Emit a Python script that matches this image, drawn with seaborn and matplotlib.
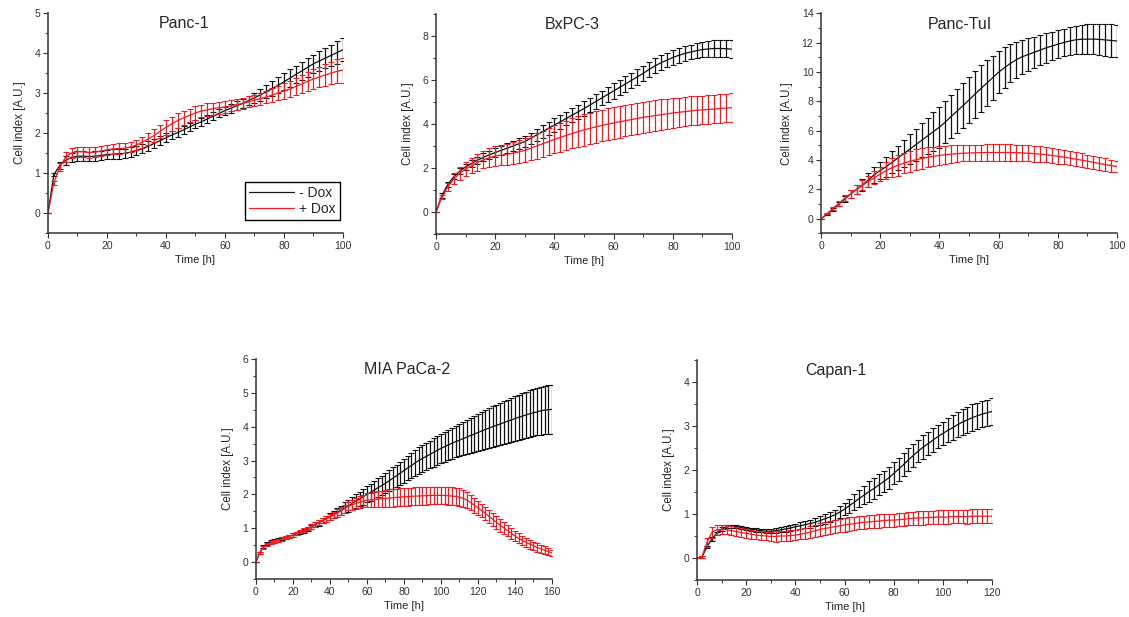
import matplotlib
matplotlib.use("Agg")
import matplotlib.pyplot as plt
from matplotlib.ticker import MultipleLocator
import seaborn as sns
import pandas as pd

sns.set_style("ticks")
plt.rcParams["font.family"] = ["Liberation Sans", "DejaVu Sans"]

# time grids (h)
time_100 = list(range(0, 101, 2))
time_120 = list(range(0, 121, 2))
time_160 = list(range(0, 161, 2))

# ---- Panc-1 ----
panc1_minus = [0, 0.96, 1.19, 1.32, 1.39, 1.42, 1.42, 1.41, 1.42, 1.44, 1.46, 1.47, 1.48, 1.49, 1.52, 1.56,
               1.61, 1.67, 1.74, 1.81, 1.88, 1.95, 2.01, 2.08, 2.15, 2.22, 2.28, 2.35, 2.42, 2.49, 2.56,
               2.62, 2.68, 2.74, 2.81, 2.88, 2.95, 3.03, 3.11, 3.19, 3.28, 3.37, 3.46, 3.55, 3.64, 3.73,
               3.80, 3.87, 3.94, 4.01, 4.08]
panc1_minus_err = [0, 0.04, 0.08, 0.11, 0.12, 0.12, 0.12, 0.12, 0.12, 0.12, 0.12, 0.12, 0.12, 0.12, 0.12, 0.12,
                   0.12, 0.12, 0.12, 0.11, 0.11, 0.11, 0.11, 0.10, 0.10, 0.10, 0.10, 0.10, 0.10, 0.10, 0.10,
                   0.11, 0.11, 0.12, 0.12, 0.13, 0.14, 0.16, 0.18, 0.20, 0.21, 0.22, 0.22, 0.23, 0.23, 0.23,
                   0.24, 0.25, 0.26, 0.28, 0.29]
panc1_plus = [0, 0.76, 1.15, 1.40, 1.50, 1.53, 1.53, 1.51, 1.52, 1.55, 1.58, 1.60, 1.61, 1.62, 1.65, 1.70,
              1.77, 1.85, 1.94, 2.04, 2.14, 2.23, 2.31, 2.38, 2.44, 2.50, 2.55, 2.58, 2.61, 2.63, 2.65,
              2.68, 2.71, 2.74, 2.78, 2.82, 2.86, 2.90, 2.95, 3.00, 3.05, 3.10, 3.16, 3.22, 3.29, 3.35,
              3.40, 3.45, 3.50, 3.54, 3.57]
panc1_plus_err = [0, 0.05, 0.10, 0.12, 0.13, 0.13, 0.13, 0.13, 0.13, 0.13, 0.13, 0.13, 0.13, 0.13, 0.13, 0.13,
                  0.14, 0.15, 0.16, 0.17, 0.18, 0.18, 0.18, 0.18, 0.17, 0.17, 0.16, 0.16, 0.15, 0.15, 0.14,
                  0.14, 0.14, 0.14, 0.14, 0.14, 0.15, 0.16, 0.17, 0.18, 0.19, 0.20, 0.21, 0.22, 0.24, 0.25,
                  0.26, 0.27, 0.28, 0.30, 0.31]

# ---- BxPC-3 ----
bxpc3_minus = [0, 0.75, 1.25, 1.60, 1.85, 2.05, 2.20, 2.35, 2.48, 2.60, 2.70, 2.80, 2.90, 3.00, 3.10, 3.20,
               3.35, 3.50, 3.65, 3.80, 3.95, 4.10, 4.25, 4.40, 4.55, 4.70, 4.86, 5.02, 5.18, 5.34, 5.50,
               5.66, 5.82, 5.98, 6.14, 6.30, 6.48, 6.64, 6.78, 6.90, 7.02, 7.12, 7.20, 7.27, 7.33, 7.38,
               7.41, 7.43, 7.43, 7.42, 7.40]
bxpc3_minus_err = [0, 0.10, 0.11, 0.12, 0.14, 0.15, 0.16, 0.17, 0.18, 0.19, 0.20, 0.21, 0.22, 0.23, 0.24, 0.25,
                   0.26, 0.27, 0.28, 0.29, 0.30, 0.31, 0.31, 0.32, 0.32, 0.33, 0.33, 0.34, 0.34, 0.35, 0.35,
                   0.35, 0.35, 0.35, 0.35, 0.35, 0.35, 0.34, 0.34, 0.33, 0.33, 0.33, 0.34, 0.34, 0.34, 0.35,
                   0.36, 0.37, 0.38, 0.39, 0.40]
bxpc3_plus = [0, 0.68, 1.15, 1.50, 1.75, 1.95, 2.10, 2.25, 2.37, 2.47, 2.55, 2.58, 2.62, 2.67, 2.73, 2.80,
              2.90, 3.00, 3.10, 3.20, 3.30, 3.39, 3.48, 3.57, 3.65, 3.73, 3.80, 3.87, 3.93, 3.99, 4.04,
              4.10, 4.15, 4.20, 4.25, 4.30, 4.34, 4.38, 4.42, 4.46, 4.50, 4.53, 4.56, 4.59, 4.62, 4.64,
              4.66, 4.68, 4.70, 4.72, 4.74]
bxpc3_plus_err = [0, 0.10, 0.18, 0.25, 0.29, 0.33, 0.35, 0.37, 0.39, 0.42, 0.44, 0.46, 0.48, 0.50, 0.52, 0.54,
                  0.56, 0.58, 0.60, 0.62, 0.63, 0.65, 0.67, 0.68, 0.70, 0.71, 0.72, 0.72, 0.72, 0.72, 0.72,
                  0.72, 0.72, 0.72, 0.72, 0.72, 0.71, 0.70, 0.70, 0.69, 0.68, 0.67, 0.67, 0.66, 0.66, 0.65,
                  0.65, 0.65, 0.65, 0.65, 0.65]

# ---- Panc-TuI ----
panctui_minus = [0, 0.30, 0.65, 1.00, 1.35, 1.70, 2.00, 2.30, 2.65, 3.00, 3.30, 3.55, 3.85, 4.15, 4.45, 4.75,
                 5.05, 5.35, 5.65, 5.95, 6.25, 6.60, 6.98, 7.35, 7.72, 8.10, 8.50, 8.88, 9.25, 9.62, 10.00,
                 10.30, 10.60, 10.85, 11.05, 11.20, 11.35, 11.50, 11.65, 11.78, 11.90, 12.02, 12.12, 12.20,
                 12.24, 12.25, 12.25, 12.23, 12.20, 12.16, 12.12]
panctui_minus_err = [0, 0.05, 0.10, 0.15, 0.20, 0.25, 0.32, 0.39, 0.46, 0.53, 0.60, 0.68, 0.76, 0.84, 0.92, 1.00,
                     1.08, 1.16, 1.24, 1.32, 1.40, 1.44, 1.48, 1.52, 1.56, 1.60, 1.60, 1.58, 1.55, 1.50, 1.45,
                     1.38, 1.30, 1.22, 1.15, 1.10, 1.06, 1.03, 1.00, 0.97, 0.95, 0.95, 0.96, 0.97, 0.98, 1.00,
                     1.02, 1.05, 1.08, 1.10, 1.12]
panctui_plus = [0, 0.35, 0.70, 1.05, 1.40, 1.70, 2.00, 2.28, 2.55, 2.80, 3.05, 3.28, 3.48, 3.65, 3.80, 3.92,
                4.02, 4.11, 4.19, 4.26, 4.32, 4.37, 4.41, 4.44, 4.47, 4.49, 4.50, 4.51, 4.52, 4.52, 4.52,
                4.52, 4.52, 4.51, 4.49, 4.47, 4.44, 4.41, 4.37, 4.32, 4.26, 4.20, 4.14, 4.07, 4.00, 3.93,
                3.85, 3.77, 3.70, 3.63, 3.56]
panctui_plus_err = [0, 0.05, 0.10, 0.15, 0.20, 0.25, 0.30, 0.35, 0.40, 0.45, 0.50, 0.57, 0.64, 0.70, 0.71, 0.72,
                    0.71, 0.70, 0.68, 0.65, 0.63, 0.61, 0.59, 0.57, 0.56, 0.55, 0.55, 0.55, 0.55, 0.55, 0.55,
                    0.55, 0.55, 0.55, 0.55, 0.55, 0.54, 0.54, 0.53, 0.51, 0.50, 0.49, 0.48, 0.47, 0.46, 0.45,
                    0.44, 0.43, 0.42, 0.41, 0.40]

# ---- MIA PaCa-2 ----
mia_minus = [0, 0.27, 0.45, 0.55, 0.59, 0.62, 0.65, 0.69, 0.72, 0.76, 0.80, 0.84, 0.88, 0.93, 0.98, 1.04,
             1.10, 1.16, 1.22, 1.28, 1.34, 1.40, 1.47, 1.53, 1.60, 1.66, 1.73, 1.80, 1.86, 1.93, 2.00,
             2.06, 2.13, 2.20, 2.26, 2.33, 2.40, 2.48, 2.55, 2.63, 2.70, 2.78, 2.85, 2.93, 3.00, 3.06,
             3.12, 3.18, 3.24, 3.30, 3.36, 3.41, 3.46, 3.51, 3.56, 3.60, 3.65, 3.69, 3.74, 3.78, 3.83,
             3.87, 3.92, 3.96, 4.00, 4.04, 4.08, 4.12, 4.16, 4.20, 4.24, 4.28, 4.31, 4.35, 4.38, 4.41,
             4.44, 4.47, 4.49, 4.50, 4.51]
mia_minus_err = [0, 0.03, 0.04, 0.05, 0.05, 0.05, 0.05, 0.05, 0.05, 0.05, 0.05, 0.05, 0.05, 0.06, 0.06, 0.06,
                 0.07, 0.08, 0.08, 0.09, 0.10, 0.11, 0.13, 0.14, 0.16, 0.17, 0.18, 0.20, 0.21, 0.23, 0.24,
                 0.25, 0.26, 0.28, 0.29, 0.30, 0.31, 0.32, 0.33, 0.34, 0.35, 0.36, 0.37, 0.38, 0.39, 0.40,
                 0.41, 0.41, 0.42, 0.42, 0.43, 0.44, 0.45, 0.46, 0.47, 0.48, 0.49, 0.51, 0.52, 0.54, 0.55,
                 0.56, 0.57, 0.59, 0.60, 0.61, 0.62, 0.63, 0.64, 0.65, 0.66, 0.67, 0.68, 0.68, 0.69, 0.70,
                 0.70, 0.71, 0.71, 0.72, 0.72]
mia_plus = [0, 0.27, 0.43, 0.52, 0.57, 0.60, 0.64, 0.68, 0.72, 0.76, 0.80, 0.85, 0.90, 0.95, 1.00, 1.05,
            1.11, 1.17, 1.22, 1.28, 1.33, 1.39, 1.45, 1.51, 1.58, 1.65, 1.69, 1.73, 1.77, 1.80, 1.83,
            1.84, 1.85, 1.86, 1.87, 1.88, 1.89, 1.90, 1.91, 1.92, 1.93, 1.93, 1.94, 1.95, 1.95, 1.96,
            1.96, 1.97, 1.97, 1.97, 1.97, 1.97, 1.96, 1.95, 1.94, 1.92, 1.88, 1.83, 1.76, 1.68, 1.60,
            1.52, 1.44, 1.35, 1.26, 1.17, 1.09, 1.01, 0.93, 0.85, 0.77, 0.70, 0.64, 0.58, 0.53, 0.48,
            0.43, 0.39, 0.35, 0.31, 0.27]
mia_plus_err = [0, 0.03, 0.04, 0.05, 0.05, 0.05, 0.05, 0.05, 0.05, 0.05, 0.05, 0.05, 0.05, 0.05, 0.05, 0.07,
                0.07, 0.08, 0.08, 0.09, 0.10, 0.10, 0.11, 0.11, 0.12, 0.12, 0.14, 0.15, 0.17, 0.18, 0.20,
                0.21, 0.22, 0.23, 0.24, 0.25, 0.26, 0.26, 0.26, 0.26, 0.26, 0.26, 0.26, 0.26, 0.26, 0.26,
                0.26, 0.26, 0.26, 0.26, 0.26, 0.26, 0.26, 0.26, 0.26, 0.26, 0.25, 0.24, 0.23, 0.22, 0.21,
                0.20, 0.20, 0.20, 0.20, 0.20, 0.19, 0.18, 0.17, 0.16, 0.15, 0.15, 0.14, 0.13, 0.13, 0.12,
                0.12, 0.11, 0.11, 0.10, 0.10]

# ---- Capan-1 ----
capan_minus = [0, 0.02, 0.25, 0.43, 0.56, 0.66, 0.71, 0.72, 0.71, 0.69, 0.67, 0.65, 0.64, 0.62, 0.61, 0.61,
               0.62, 0.64, 0.66, 0.68, 0.71, 0.73, 0.76, 0.78, 0.81, 0.85, 0.89, 0.93, 0.98, 1.04, 1.11,
               1.19, 1.27, 1.35, 1.43, 1.51, 1.58, 1.66, 1.74, 1.82, 1.92, 2.02, 2.12, 2.23, 2.33, 2.43,
               2.52, 2.60, 2.68, 2.76, 2.83, 2.90, 2.96, 3.03, 3.09, 3.14, 3.19, 3.23, 3.27, 3.30, 3.33]
capan_minus_err = [0, 0.02, 0.03, 0.04, 0.04, 0.04, 0.04, 0.04, 0.04, 0.04, 0.04, 0.04, 0.04, 0.04, 0.04, 0.05,
                   0.05, 0.06, 0.06, 0.07, 0.07, 0.08, 0.08, 0.09, 0.09, 0.10, 0.11, 0.11, 0.12, 0.13, 0.14,
                   0.16, 0.18, 0.19, 0.21, 0.23, 0.24, 0.24, 0.24, 0.25, 0.25, 0.26, 0.26, 0.26, 0.26, 0.26,
                   0.27, 0.27, 0.27, 0.27, 0.27, 0.27, 0.28, 0.28, 0.29, 0.29, 0.30, 0.30, 0.30, 0.30, 0.30]
capan_plus = [0, 0.03, 0.35, 0.58, 0.64, 0.65, 0.64, 0.62, 0.60, 0.58, 0.56, 0.54, 0.52, 0.51, 0.50, 0.49,
              0.49, 0.50, 0.50, 0.51, 0.52, 0.54, 0.56, 0.59, 0.62, 0.65, 0.67, 0.69, 0.71, 0.73, 0.75,
              0.77, 0.78, 0.80, 0.81, 0.82, 0.83, 0.84, 0.85, 0.86, 0.86, 0.87, 0.88, 0.89, 0.90, 0.91,
              0.91, 0.92, 0.92, 0.93, 0.93, 0.93, 0.94, 0.94, 0.94, 0.94, 0.95, 0.95, 0.95, 0.95, 0.95]
capan_plus_err = [0, 0.02, 0.10, 0.12, 0.11, 0.10, 0.10, 0.10, 0.10, 0.10, 0.10, 0.10, 0.10, 0.10, 0.10, 0.11,
                  0.12, 0.12, 0.12, 0.12, 0.12, 0.12, 0.13, 0.13, 0.14, 0.14, 0.15, 0.15, 0.15, 0.15, 0.15,
                  0.15, 0.15, 0.15, 0.15, 0.15, 0.15, 0.15, 0.15, 0.15, 0.15, 0.15, 0.15, 0.15, 0.15, 0.15,
                  0.15, 0.15, 0.15, 0.15, 0.15, 0.15, 0.15, 0.15, 0.15, 0.16, 0.16, 0.16, 0.16, 0.16, 0.16]

panels = [
    ("Panc-1", time_100, panc1_minus, panc1_minus_err, panc1_plus, panc1_plus_err),
    ("BxPC-3", time_100, bxpc3_minus, bxpc3_minus_err, bxpc3_plus, bxpc3_plus_err),
    ("Panc-TuI", time_100, panctui_minus, panctui_minus_err, panctui_plus, panctui_plus_err),
    ("MIA PaCa-2", time_160, mia_minus, mia_minus_err, mia_plus, mia_plus_err),
    ("Capan-1", time_120, capan_minus, capan_minus_err, capan_plus, capan_plus_err),
]

# axes rect (fig fraction), y limits, y major/minor step, x max, title x pos
layout = {
    "Panc-1":     ([0.0425, 0.6224, 0.2613, 0.3566], (-0.5, 5), 1, 0.5, 100, 0.46),
    "BxPC-3":     ([0.3862, 0.6208, 0.2622, 0.3566], (-1, 9), 2, 1, 100, 0.46),
    "Panc-TuI":   ([0.7272, 0.6216, 0.2622, 0.3566], (-1, 14), 2, 1, 100, 0.47),
    "MIA PaCa-2": ([0.2267, 0.0616, 0.2622, 0.3566], (-0.5, 6), 1, 0.5, 160, 0.51),
    "Capan-1":    ([0.6174, 0.0600, 0.2613, 0.3566], (-0.5, 4.5), 1, 0.5, 120, 0.47),
}

BLACK = "#111111"
RED = "#ec1c24"

fig = plt.figure(figsize=(11.29, 6.17), dpi=100)

for name, t, m_minus, e_minus, m_plus, e_plus in panels:
    rect, ylim, ymaj, ymin, xmax, tx = layout[name]
    ax = fig.add_axes(rect)

    for mean, err, col, lab in [(m_minus, e_minus, BLACK, "- Dox"), (m_plus, e_plus, RED, "+ Dox")]:
        ax.errorbar(t, mean, yerr=err, fmt="none", ecolor=col, elinewidth=0.9,
                    capsize=2.2, capthick=0.8)
        df = pd.DataFrame({"time": t, "ci": mean})
        sns.lineplot(data=df, x="time", y="ci", color=col, lw=0.9, ax=ax, label=lab)

    ax.set_xlim(0, xmax)
    ax.set_ylim(*ylim)
    ax.xaxis.set_major_locator(MultipleLocator(20))
    ax.xaxis.set_minor_locator(MultipleLocator(10))
    ax.yaxis.set_major_locator(MultipleLocator(ymaj))
    ax.yaxis.set_minor_locator(MultipleLocator(ymin))
    ax.tick_params(which="major", direction="out", length=3.5, width=0.8, labelsize=7.5, pad=2,
                   colors="#333333")
    ax.tick_params(which="minor", direction="out", length=2, width=0.7, colors="#333333")
    for s in ["left", "bottom"]:
        ax.spines[s].set_linewidth(1.1)
        ax.spines[s].set_color("#333333")
    sns.despine(ax=ax)

    ax.set_xlabel("Time [h]", fontsize=8, labelpad=3)
    ax.set_ylabel("Cell index [A.U.]", fontsize=8.3, labelpad=6)
    ax.text(tx, 0.95, name, transform=ax.transAxes, ha="center", va="center", fontsize=11.5)

    if name == "Panc-1":
        leg = ax.legend(loc="lower right", bbox_to_anchor=(0.99, 0.06), fontsize=10,
                        handlelength=3.2, handletextpad=0.4, borderpad=0.3, labelspacing=0.1,
                        fancybox=False, framealpha=1, borderaxespad=0)
        leg.get_frame().set_edgecolor("black")
        leg.get_frame().set_linewidth(1.0)
    else:
        ax.get_legend().remove()

fig.savefig("out.png", dpi=100)
